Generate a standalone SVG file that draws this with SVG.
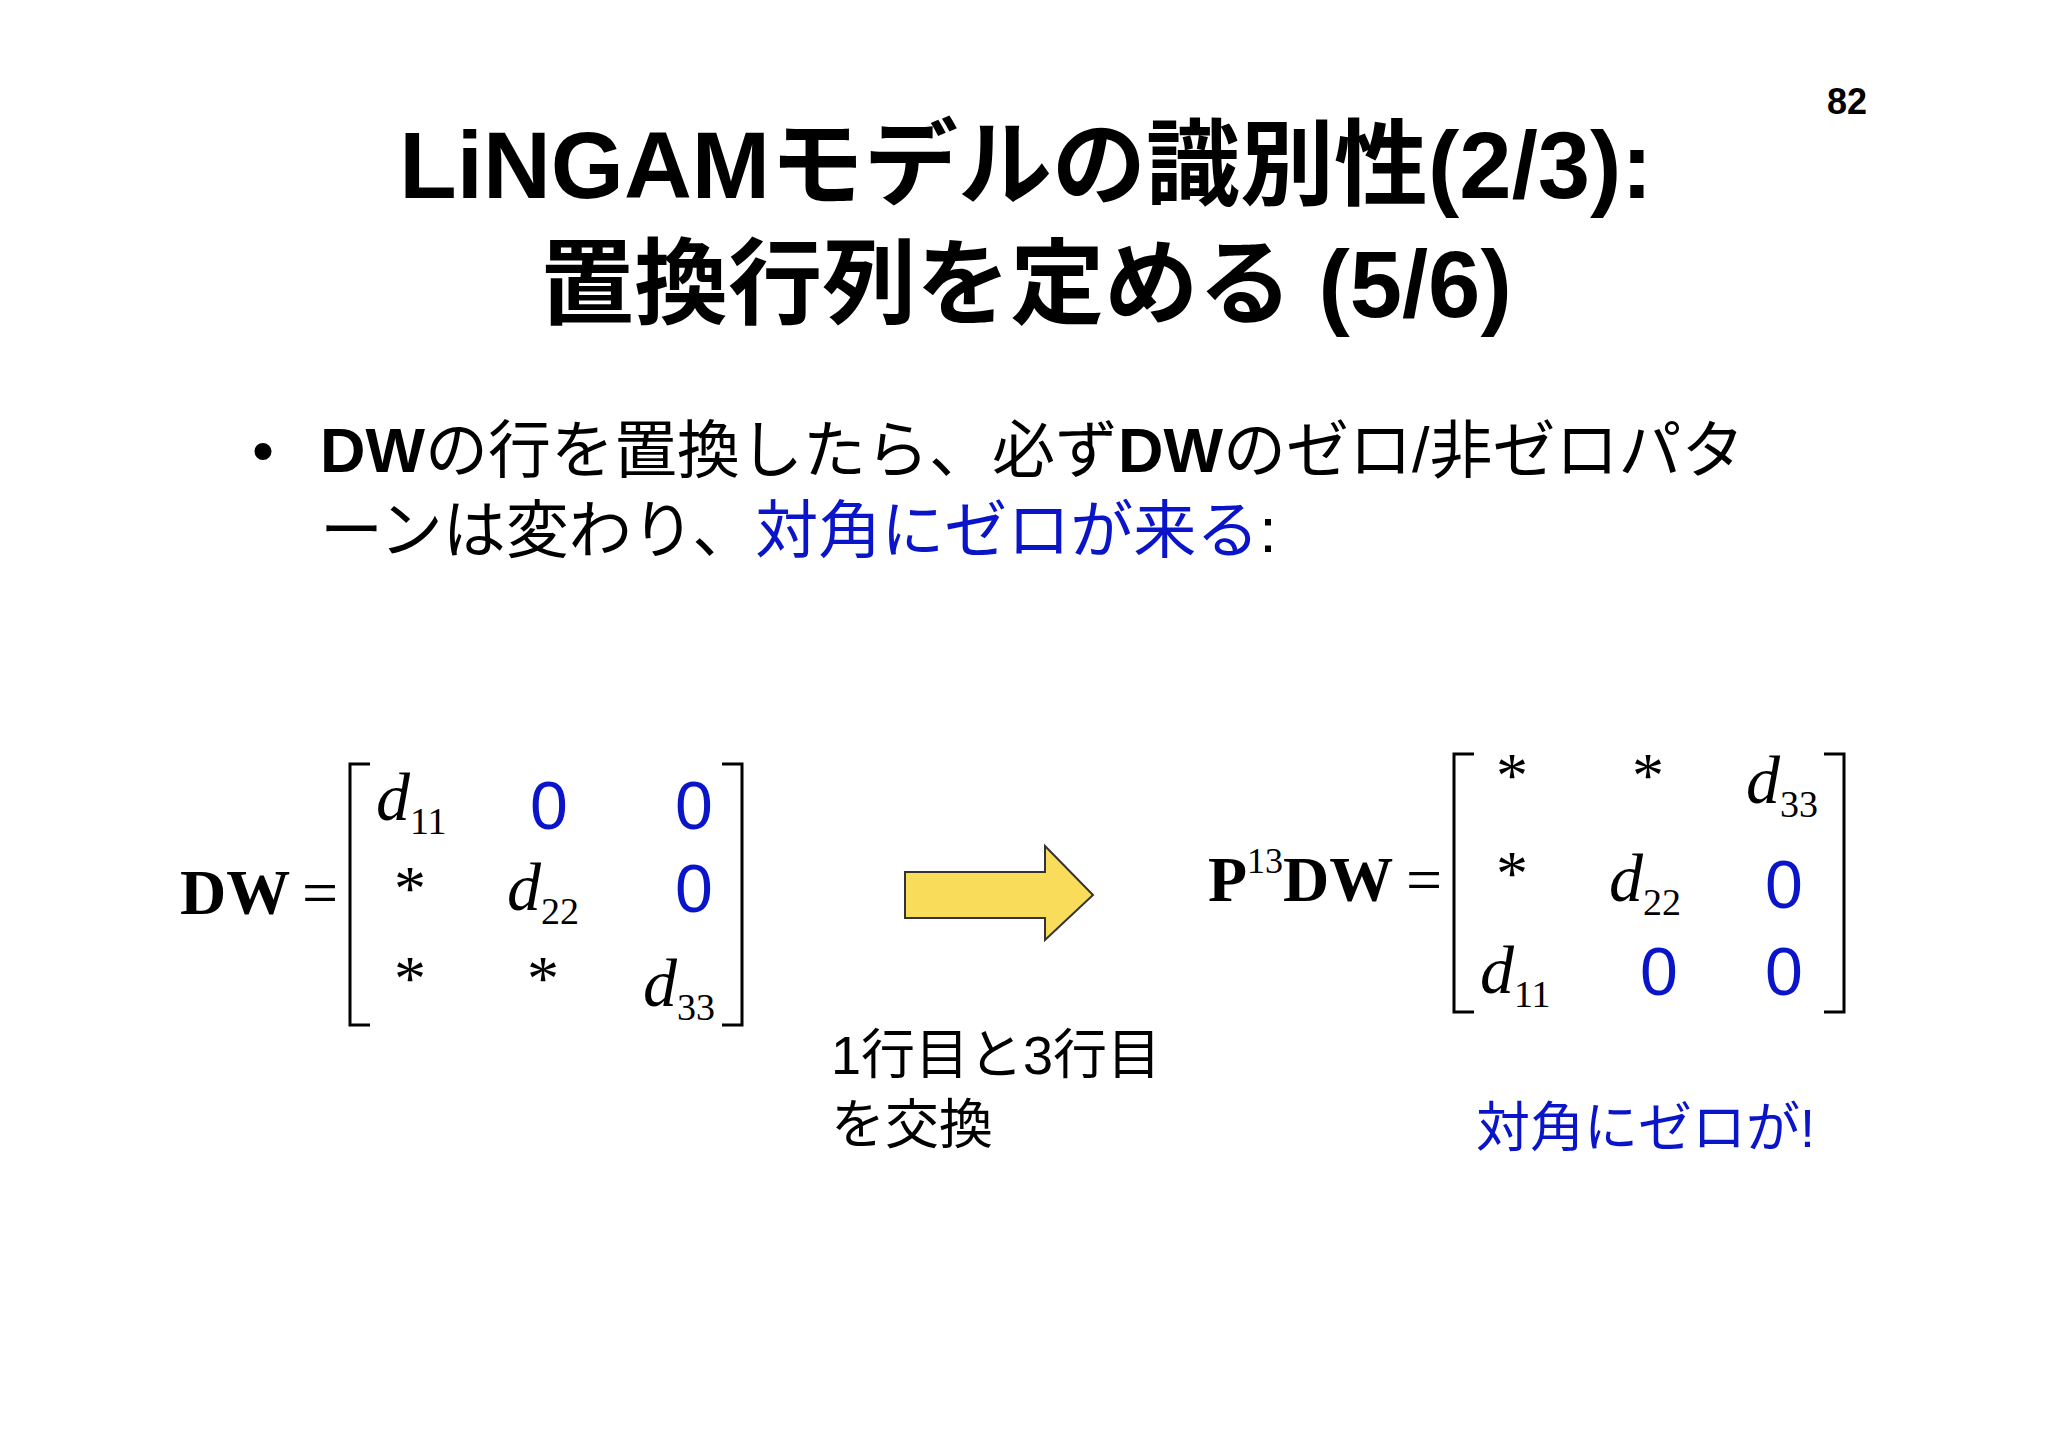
<svg xmlns="http://www.w3.org/2000/svg" width="2048" height="1448" viewBox="0 0 2048 1448">
<style>
.s{font-family:"Liberation Sans","Noto Sans CJK JP",sans-serif}
.t{font-family:"Liberation Serif",serif}
.b{font-weight:bold}
.blue{fill:#0a14c8}
.d{font-family:"Liberation Serif",serif;font-style:italic;font-size:68px}
.sub{font-family:"Liberation Serif",serif;font-style:normal;font-size:38px}
.z{font-family:"Liberation Sans",sans-serif;font-size:68px;fill:#0a14c8;text-anchor:middle}
.st{font-family:"Liberation Serif",serif;font-size:64px;text-anchor:middle}
.br{fill:none;stroke:#000;stroke-width:3}
</style>
<rect width="2048" height="1448" fill="#fff"/>
<g id="title">
<text class="s b" x="1026" y="198" font-size="94" text-anchor="middle">LiNGAMモデルの識別性(2/3):</text>
<text class="s b" x="1026" y="317" font-size="94" text-anchor="middle">置換行列を定める (5/6)</text>
<text class="s b" x="1847" y="114" font-size="36" text-anchor="middle">82</text>
</g>
<g id="bullet">
<text class="s" x="252" y="472" font-size="63">•</text>
<text class="s" x="320" y="472" font-size="63"><tspan class="b">DW</tspan>の行を置換したら、必ず<tspan class="b">DW</tspan>のゼロ/非ゼロパタ</text>
<text class="s" x="320" y="552" font-size="63">ーンは変わり、<tspan class="blue">対角にゼロが来る</tspan>:</text>
</g>
<g id="lhs">
<text class="t b" x="180" y="914" font-size="64">DW</text>
<text class="t" x="302" y="914" font-size="64">=</text>
<path class="br" d="M370,764 H350 V1025 H370 M722,764 H742 V1025 H722"/>
<text class="d" x="376" y="820">d<tspan class="sub" dy="14">11</tspan></text>
<text class="z" x="549" y="829">0</text>
<text class="z" x="694" y="829">0</text>
<text class="st" x="410" y="910">*</text>
<text class="d" x="507" y="910">d<tspan class="sub" dy="14">22</tspan></text>
<text class="z" x="694" y="912">0</text>
<text class="st" x="410" y="1000">*</text>
<text class="st" x="543" y="1000">*</text>
<text class="d" x="643" y="1006">d<tspan class="sub" dy="14">33</tspan></text>
</g>
<g id="arrow">
<polygon points="905,872 1045,872 1045,846 1093,895 1045,940 1045,918 905,918" fill="#f8dc5a" stroke="#333" stroke-width="2"/>
</g>
<g id="swap-label">
<text class="s" x="831" y="1074" font-size="54">1行目と3行目</text>
<text class="s" x="831" y="1144" font-size="54">を交換</text>
</g>
<g id="rhs">
<text class="t b" x="1208" y="901" font-size="64">P<tspan font-weight="normal" font-size="36" dy="-28">13</tspan><tspan dy="28">DW</tspan></text>
<text class="t" x="1406" y="901" font-size="64">=</text>
<path class="br" d="M1474,754 H1454 V1012 H1474 M1824,754 H1844 V1012 H1824"/>
<text class="st" x="1512" y="797">*</text>
<text class="st" x="1648" y="797">*</text>
<text class="d" x="1746" y="803">d<tspan class="sub" dy="14">33</tspan></text>
<text class="st" x="1512" y="895">*</text>
<text class="d" x="1609" y="901">d<tspan class="sub" dy="14">22</tspan></text>
<text class="z" x="1784" y="908">0</text>
<text class="d" x="1480" y="993">d<tspan class="sub" dy="14">11</tspan></text>
<text class="z" x="1659" y="995">0</text>
<text class="z" x="1784" y="995">0</text>
</g>
<g id="note">
<text class="s blue" x="1476" y="1147" font-size="54">対角にゼロが!</text>
</g>
</svg>
